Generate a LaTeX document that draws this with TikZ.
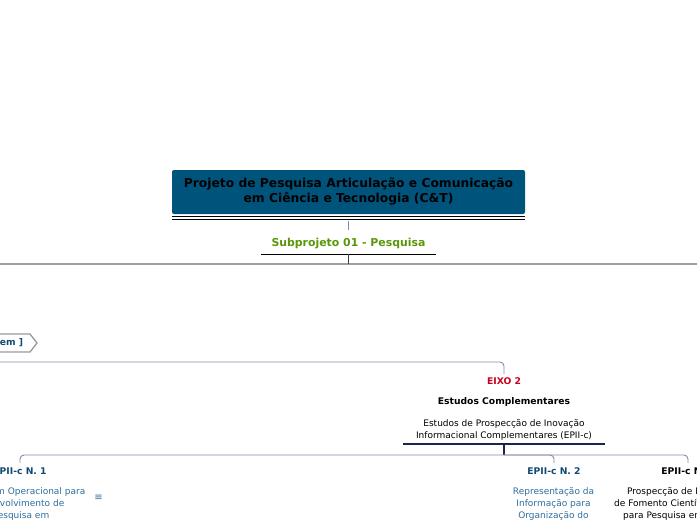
\documentclass[tikz,border=0pt]{standalone}
\usepackage{fontspec}
\setmainfont{DejaVu Sans}
\usepackage{tikz}
\usetikzlibrary{positioning}
\definecolor{titleblue}{RGB}{0,84,124}
\definecolor{subgreen}{RGB}{90,150,10}
\definecolor{eixored}{RGB}{200,0,30}
\definecolor{labelteal}{RGB}{16,74,112}
\definecolor{bodyteal}{RGB}{46,110,158}
\definecolor{linec}{RGB}{140,133,168}
\definecolor{navyline}{RGB}{28,37,82}

\begin{document}
\begin{tikzpicture}[x=1pt, y=-1pt, inner sep=0pt,
  body/.style={align=center, font=\fontsize{9}{12}\selectfont},
  lbl/.style={font=\fontsize{9.2}{11}\selectfont\bfseries, minimum height=16pt},
  conn/.style={draw=linec, line width=0.9pt, rounded corners=4pt}]
\useasboundingbox (0,0) rectangle (697,520);
\clip (0,0) rectangle (697,520);
\node [fill=titleblue, rounded corners=2pt, align=center, minimum width=353pt, minimum height=44pt, font=\fontsize{12.3}{15}\selectfont\bfseries] (title) at (348.5,192) {Projeto de Pesquisa Articulação e Comunicação\\em Ciência e Tecnologia (C\&T)};
\draw [line width=1pt] ([yshift=-2.5pt]title.south west) -- ([yshift=-2.5pt]title.south east);
\draw [line width=1pt] ([yshift=-5.5pt]title.south west) -- ([yshift=-5.5pt]title.south east);
\node [text=subgreen, minimum width=175pt, minimum height=20pt, font=\fontsize{10.9}{13}\selectfont\bfseries] (subproj) at (348.5,244) {Subprojeto 01 - Pesquisa};
\draw [linec, line width=0.9pt] ([yshift=-7pt]title.south) -- ([yshift=-16pt]title.south);
\draw [line width=0.8pt] (subproj.south west) -- (subproj.south east);
% main branch line
\coordinate (busl) at (0,264);
\coordinate (busr) at (697,264);
\draw [gray!75, line width=1.6pt] (busl) -- (busr);
\draw [darkgray, line width=0.9pt] (subproj.south) -- (subproj.south |- busl);
% tag on the left
\node [text=labelteal, font=\fontsize{9.2}{11}\selectfont\bfseries] (tag) at (11.5,343) {em ]};
\draw [gray!80, line width=1.3pt] (-5,334) -- (30,334) -- (37,343) -- (30,352) -- (-5,352);
% EIXO 2
\coordinate (eixol) at (0,362);
\node [lbl, text=eixored, minimum height=14pt] (eixo) at (504,381) {EIXO 2};
\node [lbl, minimum height=0pt] (estudos) at (504,402) {Estudos Complementares};
\node [body, minimum width=201pt, minimum height=28pt] (epii) at (504,430) {Estudos de Prospecção de Inovação\\Informacional Complementares (EPII-c)};
\draw [conn] (eixol) -| (eixo.north);
\draw [navyline, line width=1.6pt] (epii.south west) -- (epii.south east);
\coordinate (hub) at (504,455);
\draw [navyline, line width=1.2pt] (epii.south) -- (hub);
% sub items
\node [lbl, text=labelteal] (n1) at (20,471) {EPII-c N. 1};
\node [lbl, text=labelteal] (n2) at (554,471) {EPII-c N. 2};
\node [lbl] (n3) at (688,471) {EPII-c N. 3};
\draw [conn] (hub) -| (n1.north);
\draw [conn] (hub) -| (n2.north);
\draw [conn] (hub) -| (n3.north);
\node [body, align=right, text=bodyteal, anchor=north east] (b1) at (85.5,487) {m Operacional para\\\mbox{volvimento de\kern21pt}\\\mbox{esquisa em\kern36pt}};
\node [text=bodyteal!80!gray, font=\fontsize{10}{11}\selectfont] (note1) at (98.5,498) {≡};
\node [body, text=bodyteal, anchor=north] (b2) at (553.5,487) {Representação da\\Informação para\\Organização do};
\node [body, align=left, anchor=north west] (b3) at (614,487) {\hspace*{13pt}Prospecção de P\\de Fomento Científico\\\hspace*{9pt}para Pesquisa em};
\end{tikzpicture}
\end{document}
